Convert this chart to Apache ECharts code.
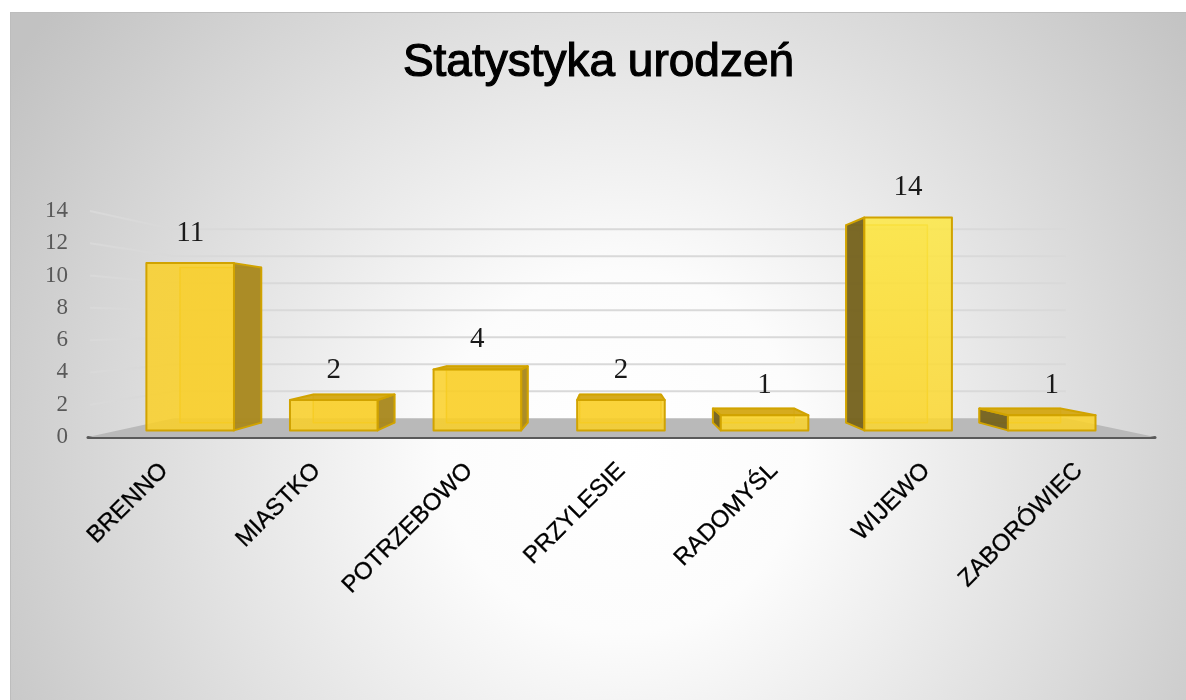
<!DOCTYPE html>
<html>
<head>
<meta charset="utf-8">
<title>Statystyka urodzeń</title>
<script src="https://cdn.jsdelivr.net/npm/echarts@6/dist/echarts.min.js"></script>
<style>
    html, body { margin: 0; padding: 0; background: #fff; }
    #frame { position: absolute; left: 10px; top: 12px; width: 1176px; height: 688px; background: #bdbdbd; }
    #chart { position: absolute; left: 11px; top: 13px; width: 1175px; height: 687px; }
</style>
</head>
<body>
<div id="frame"></div>
<div id="chart"></div>
<script>
// dane wykresu
const categories = ['BRENNO', 'MIASTKO', 'POTRZEBOWO', 'PRZYLESIE', 'RADOMYŚL', 'WIJEWO', 'ZABORÓWIEC']
const births = [11, 2, 4, 2, 1, 14, 1]
const yTicks = [0, 2, 4, 6, 8, 10, 12, 14]

// perspektywa "3D" jak w Excelu
const VX = 601
const VY = 310
const K_FRONT = 0.942 // przednia ściana słupka
const K_BACK = 0.874  // tylna ściana słupka
const K_WALL = 0.836  // tylna ściana wykresu
// rozjaśnienie (odblask) w prawej górnej części
const LIGHT_X = 880
const LIGHT_Y = 220
const LIGHT_R = 260

function proj(x, y, k) {
    return [VX + (x - VX) * k, VY + (y - VY) * k]
}

// kolor przedniej ściany zależnie od odległości od odblasku
function frontColor(p) {
    let t = 1 - Math.hypot(p[0] - LIGHT_X, p[1] - LIGHT_Y) / LIGHT_R
    t = Math.max(0, Math.min(1, t))
    const r = Math.round(250 + 3 * t)
    const g = Math.round(208 + 26 * t)
    const b = Math.round(40 + 32 * t)
    return 'rgba(' + r + ',' + g + ',' + b + ',0.86)'
}

// linie siatki: lewa ściana + tylna ściana
function renderGrid(params, api) {
    const v = api.value(1)
    const cs = params.coordSys
    const y = api.coord([0, v])[1]
    const left = cs.x
    const right = cs.x + cs.width
    return {
        type: 'polyline',
        shape: { points: [[left + 2, y], proj(left, y, K_WALL), proj(right, y, K_WALL)] },
        style: { fill: 'none', stroke: '#d9d9d9', lineWidth: 2 }
    }
}

// podłoga
function renderFloor(params, api) {
    const cs = params.coordSys
    const y0 = api.coord([0, 0])[1]
    const left = cs.x
    const right = cs.x + cs.width
    return {
        type: 'polygon',
        shape: { points: [[left, y0], [right, y0], proj(right, y0, K_WALL), proj(left, y0, K_WALL)] },
        style: { fill: '#b9b9b9' }
    }
}

// słupek 3D
function renderBar(params, api) {
    const i = api.value(0)
    const v = api.value(1)
    const base = api.coord([i, 0])
    const top = api.coord([i, v])
    const hw = api.size([1, 0])[0] * 0.305
    const xl = base[0] - hw
    const xr = base[0] + hw
    const f = [proj(xl, top[1], K_FRONT), proj(xr, top[1], K_FRONT), proj(xr, base[1], K_FRONT), proj(xl, base[1], K_FRONT)]
    const b = [proj(xl, top[1], K_BACK), proj(xr, top[1], K_BACK), proj(xr, base[1], K_BACK), proj(xl, base[1], K_BACK)]
    const edge = '#d1a300'
    const children = []
    // tylne krawędzie widoczne przez półprzezroczysty słupek
    children.push({
        type: 'polygon',
        shape: { points: b },
        style: { fill: 'rgba(240,190,20,0.35)', stroke: 'rgba(222,176,0,0.9)', lineWidth: 1.5, lineJoin: 'round' }
    })
    if (xr < VX) {
        children.push({
            type: 'polygon',
            shape: { points: [f[1], b[1], b[2], f[2]] },
            style: { fill: 'rgba(168,136,32,0.95)', stroke: edge, lineWidth: 2, lineJoin: 'round' }
        })
    } else if (xl > VX) {
        children.push({
            type: 'polygon',
            shape: { points: [f[0], b[0], b[3], f[3]] },
            style: { fill: 'rgba(116,98,32,0.95)', stroke: edge, lineWidth: 2, lineJoin: 'round' }
        })
    }
    if (f[0][1] > VY) {
        children.push({
            type: 'polygon',
            shape: { points: [f[0], f[1], b[1], b[0]] },
            style: { fill: 'rgba(212,168,22,0.95)', stroke: edge, lineWidth: 2, lineJoin: 'round' }
        })
    }
    children.push({
        type: 'polygon',
        shape: { points: f },
        style: {
            fill: {
                type: 'linear', x: 0, y: 0, x2: 0, y2: 1,
                colorStops: [
                    { offset: 0, color: frontColor([(f[0][0] + f[1][0]) / 2, f[0][1]]) },
                    { offset: 1, color: frontColor([(f[0][0] + f[1][0]) / 2, f[3][1]]) }
                ]
            },
            stroke: edge,
            lineWidth: 2,
            lineJoin: 'round'
        }
    })
    children.push({
        type: 'text',
        style: {
            text: String(v),
            x: (f[0][0] + f[1][0]) / 2,
            y: f[0][1] - 30,
            align: 'center',
            verticalAlign: 'middle',
            fontFamily: 'Liberation Serif',
            fontSize: 29,
            fill: '#1a1a1a'
        }
    })
    return { type: 'group', children: children }
}

const chart = echarts.init(document.getElementById('chart'))

chart.setOption({
    animation: false,
    backgroundColor: {
        type: 'radial', x: 0.52, y: 0.64, r: 1.05,
        colorStops: [
            { offset: 0, color: '#ffffff' },
            { offset: 0.25, color: '#fcfcfc' },
            { offset: 1, color: '#c2c2c2' }
        ]
    },
    title: {
        text: 'Statystyka urodzeń',
        left: 'center',
        top: 22,
        textStyle: {
            fontFamily: 'Liberation Sans',
            fontSize: 46,
            fontWeight: 'normal',
            color: '#000',
            textBorderColor: '#000',
            textBorderWidth: 1.2
        }
    },
    grid: { left: 77, right: 31, top: 198, bottom: 263 },
    xAxis: {
        type: 'category',
        data: categories,
        axisLine: { lineStyle: { color: '#595959', width: 3 } },
        axisTick: { show: false },
        axisLabel: {
            interval: 0,
            rotate: 45,
            margin: 30,
            color: '#000',
            fontFamily: 'Liberation Sans',
            fontSize: 24,
            textBorderColor: '#000',
            textBorderWidth: 0.3
        }
    },
    yAxis: {
        type: 'value',
        min: yTicks[0],
        max: yTicks[yTicks.length - 1],
        interval: yTicks[1] - yTicks[0],
        axisLine: { show: false },
        axisTick: { show: false },
        splitLine: { show: false },
        axisLabel: { margin: 20, color: '#595959', fontFamily: 'Liberation Serif', fontSize: 23 }
    },
    series: [
        {
            type: 'custom',
            z: 1,
            renderItem: renderGrid,
            data: yTicks.slice(1).map(v => [0, v]),
            silent: true
        },
        {
            type: 'custom',
            z: 2,
            renderItem: renderFloor,
            data: [[0, 0]],
            silent: true
        },
        {
            type: 'custom',
            z: 3,
            renderItem: renderBar,
            data: births.map((v, i) => [i, v])
        }
    ]
})
</script>
</body>
</html>
